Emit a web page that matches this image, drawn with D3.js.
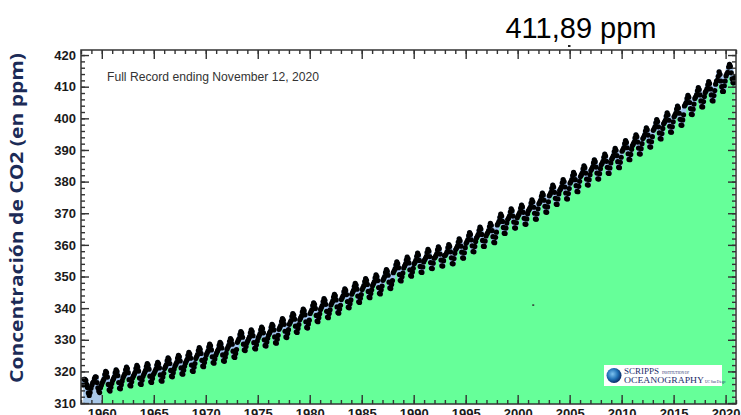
<!DOCTYPE html>
<html>
<head>
<meta charset="utf-8">
<script src="https://cdn.jsdelivr.net/npm/d3@7"></script>
<style>
  html, body { margin: 0; padding: 0; background: #fff; overflow: hidden; }
  svg { display: block; }
</style>
</head>
<body>
<div id="chart"></div>
<script>
// monthly CO2 at Mauna Loa (ppm)
const startYear = 1958, startMonth = 2; // March 1958
const co2_1950s = [
  315.7, 317.5, 317.5, 317.2, 315.9, 314.9, 313.2, 312.4, 313.3, 314.7,
  315.6, 316.4, 316.7, 317.7, 318.3, 318.2, 316.5, 314.8, 313.8, 313.3, 314.8, 315.6
];
const co2_1960s = [
  316.4, 317.0, 317.6, 319.0, 320.0, 319.6, 318.2, 315.9, 314.2, 313.8, 315.0, 316.2,
  317.1, 317.7, 318.3, 319.6, 320.5, 320.0, 318.7, 316.5, 314.7, 314.5, 315.8, 317.0,
  318.0, 318.6, 319.2, 320.5, 321.4, 320.9, 319.6, 317.4, 315.6, 315.4, 316.7, 317.9,
  318.5, 319.1, 319.7, 321.0, 321.9, 321.4, 320.1, 317.9, 316.1, 315.9, 317.2, 318.4,
  319.1, 319.7, 320.3, 321.6, 322.5, 322.0, 320.7, 318.5, 316.7, 316.5, 317.8, 319.0,
  319.5, 320.1, 320.7, 322.0, 322.9, 322.4, 321.1, 318.9, 317.1, 316.9, 318.2, 319.4,
  320.9, 321.5, 322.1, 323.4, 324.3, 323.8, 322.5, 320.3, 318.5, 318.3, 319.6, 320.8,
  321.7, 322.3, 322.9, 324.2, 325.1, 324.6, 323.3, 321.1, 319.3, 319.1, 320.4, 321.6,
  322.6, 323.2, 323.8, 325.1, 326.0, 325.5, 324.2, 322.0, 320.2, 320.0, 321.3, 322.5,
  324.1, 324.7, 325.3, 326.6, 327.5, 327.0, 325.7, 323.5, 321.7, 321.5, 322.8, 324.0
];
const co2_1970s = [
  325.2, 325.8, 326.4, 327.7, 328.6, 328.1, 326.8, 324.6, 322.8, 322.6, 323.9, 325.1,
  325.8, 326.4, 327.0, 328.3, 329.2, 328.7, 327.4, 325.2, 323.4, 323.2, 324.5, 325.7,
  327.0, 327.6, 328.2, 329.5, 330.4, 329.9, 328.6, 326.4, 324.6, 324.4, 325.7, 326.9,
  329.2, 329.8, 330.4, 331.7, 332.6, 332.1, 330.8, 328.6, 326.8, 326.6, 327.9, 329.1,
  329.7, 330.3, 330.9, 332.2, 333.1, 332.6, 331.3, 329.1, 327.3, 327.1, 328.4, 329.6,
  330.6, 331.2, 331.8, 333.1, 334.0, 333.5, 332.2, 330.0, 328.2, 328.0, 329.3, 330.5,
  331.5, 332.1, 332.7, 334.0, 334.9, 334.4, 333.1, 330.9, 329.1, 328.9, 330.2, 331.4,
  333.3, 333.9, 334.5, 335.8, 336.7, 336.2, 334.9, 332.7, 330.9, 330.7, 332.0, 333.2,
  334.9, 335.5, 336.1, 337.4, 338.3, 337.8, 336.5, 334.3, 332.5, 332.3, 333.6, 334.8,
  336.3, 336.9, 337.5, 338.8, 339.7, 339.2, 337.9, 335.7, 333.9, 333.7, 335.0, 336.2
];
const co2_1980s = [
  338.3, 338.9, 339.5, 340.8, 341.7, 341.2, 339.9, 337.7, 335.9, 335.7, 337.0, 338.2,
  339.6, 340.2, 340.8, 342.1, 343.0, 342.5, 341.2, 339.0, 337.2, 337.0, 338.3, 339.5,
  341.0, 341.6, 342.2, 343.5, 344.4, 343.9, 342.6, 340.4, 338.6, 338.4, 339.7, 340.9,
  342.7, 343.3, 343.9, 345.2, 346.1, 345.6, 344.3, 342.1, 340.3, 340.1, 341.4, 342.6,
  344.4, 345.0, 345.6, 346.9, 347.8, 347.3, 346.0, 343.8, 342.0, 341.8, 343.1, 344.3,
  345.9, 346.5, 347.1, 348.4, 349.3, 348.8, 347.5, 345.3, 343.5, 343.3, 344.6, 345.8,
  347.1, 347.7, 348.3, 349.6, 350.5, 350.0, 348.7, 346.5, 344.7, 344.5, 345.8, 347.0,
  348.8, 349.4, 350.0, 351.3, 352.2, 351.7, 350.4, 348.2, 346.4, 346.2, 347.5, 348.7,
  351.2, 351.8, 352.4, 353.7, 354.6, 354.1, 352.8, 350.6, 348.8, 348.6, 349.9, 351.1,
  352.7, 353.3, 353.9, 355.2, 356.1, 355.6, 354.3, 352.1, 350.3, 350.1, 351.4, 352.6
];
const co2_1990s = [
  354.0, 354.5, 355.1, 356.4, 357.4, 356.8, 355.1, 353.2, 351.4, 351.3, 353.0, 354.6,
  355.2, 355.7, 356.3, 357.6, 358.6, 358.0, 356.3, 354.4, 352.6, 352.5, 354.2, 355.8,
  356.0, 356.5, 357.1, 358.4, 359.4, 358.8, 357.1, 355.2, 353.4, 353.3, 355.0, 356.6,
  356.7, 357.2, 357.8, 359.1, 360.1, 359.5, 357.8, 355.9, 354.1, 354.0, 355.7, 357.3,
  358.5, 359.0, 359.6, 360.9, 361.9, 361.3, 359.6, 357.7, 355.9, 355.8, 357.5, 359.1,
  360.5, 361.0, 361.6, 362.9, 363.9, 363.3, 361.6, 359.7, 357.9, 357.8, 359.5, 361.1,
  362.2, 362.7, 363.3, 364.6, 365.6, 365.0, 363.3, 361.4, 359.6, 359.5, 361.2, 362.8,
  363.4, 363.9, 364.5, 365.8, 366.8, 366.2, 364.5, 362.6, 360.8, 360.7, 362.4, 364.0,
  366.3, 366.8, 367.4, 368.7, 369.7, 369.1, 367.4, 365.5, 363.7, 363.6, 365.3, 366.9,
  368.0, 368.5, 369.1, 370.4, 371.4, 370.8, 369.1, 367.2, 365.4, 365.3, 367.0, 368.6
];
const co2_2000s = [
  369.2, 369.7, 370.3, 371.6, 372.6, 372.0, 370.3, 368.4, 366.6, 366.5, 368.2, 369.8,
  370.8, 371.3, 371.9, 373.2, 374.2, 373.6, 371.9, 370.0, 368.2, 368.1, 369.8, 371.4,
  373.0, 373.5, 374.1, 375.4, 376.4, 375.8, 374.1, 372.2, 370.4, 370.3, 372.0, 373.6,
  375.5, 376.0, 376.6, 377.9, 378.9, 378.3, 376.6, 374.7, 372.9, 372.8, 374.5, 376.1,
  377.2, 377.7, 378.3, 379.6, 380.6, 380.0, 378.3, 376.4, 374.6, 374.5, 376.2, 377.8,
  379.5, 380.0, 380.6, 381.9, 382.9, 382.3, 380.6, 378.7, 376.9, 376.8, 378.5, 380.1,
  381.6, 382.1, 382.7, 384.0, 385.0, 384.4, 382.7, 380.8, 379.0, 378.9, 380.6, 382.2,
  383.5, 384.0, 384.6, 385.9, 386.9, 386.3, 384.6, 382.7, 380.9, 380.8, 382.5, 384.1,
  385.3, 385.8, 386.4, 387.7, 388.7, 388.1, 386.4, 384.5, 382.7, 382.6, 384.3, 385.9,
  387.1, 387.6, 388.2, 389.5, 390.5, 389.9, 388.2, 386.3, 384.5, 384.4, 386.1, 387.7
];
const co2_2010s = [
  389.6, 390.1, 390.7, 392.0, 393.0, 392.4, 390.7, 388.8, 387.0, 386.9, 388.6, 390.2,
  391.4, 391.9, 392.5, 393.8, 394.8, 394.2, 392.5, 390.6, 388.8, 388.7, 390.4, 392.0,
  393.6, 394.1, 394.7, 396.0, 397.0, 396.4, 394.7, 392.8, 391.0, 390.9, 392.6, 394.2,
  396.2, 396.7, 397.3, 398.6, 399.6, 399.0, 397.3, 395.4, 393.6, 393.5, 395.2, 396.8,
  398.3, 398.8, 399.4, 400.7, 401.7, 401.1, 399.4, 397.5, 395.7, 395.6, 397.3, 398.9,
  400.5, 401.0, 401.6, 402.9, 403.9, 403.3, 401.6, 399.7, 397.9, 397.8, 399.5, 401.1,
  403.9, 404.4, 405.0, 406.3, 407.3, 406.7, 405.0, 403.1, 401.3, 401.2, 402.9, 404.5,
  406.3, 406.8, 407.4, 408.7, 409.7, 409.1, 407.4, 405.5, 403.7, 403.6, 405.3, 406.9,
  408.2, 408.7, 409.3, 410.6, 411.6, 411.0, 409.3, 407.4, 405.6, 405.5, 407.2, 408.8,
  410.8, 411.8, 412.0, 413.3, 414.7, 413.9, 411.8, 410.0, 408.5, 408.5, 410.3, 411.8
];
const co2_2020 = [413.4, 414.1, 414.5, 416.2, 417.1, 416.4, 414.4, 412.5, 411.3, 411.2, 412.9];

const yearTicks = [1960, 1965, 1970, 1975, 1980, 1985, 1990, 1995, 2000, 2005, 2010, 2015, 2020];
const ppmTicks = [310, 320, 330, 340, 350, 360, 370, 380, 390, 400, 410, 420];
const recordLabel = "Full Record ending November 12, 2020";
const latestLabel = "411,89 ppm";
const yTitle = "Concentración de CO2 (en ppm)";

const W = 741, H = 415;
const plot = { left: 81, right: 736, top: 50, bottom: 404 };

const values = [].concat(co2_1950s, co2_1960s, co2_1970s, co2_1980s, co2_1990s, co2_2000s, co2_2010s, co2_2020);
const data = values.map((v, i) => {
  const m = startMonth + i;
  return { t: startYear + (m + 0.5) / 12, v: v };
});

const x = d3.scaleLinear().domain([1958, 2021]).range([plot.left, plot.right]);
const y = d3.scaleLinear().domain([309.7, 421.6]).range([plot.bottom, plot.top]);

const svg = d3.select("#chart").append("svg")
  .attr("width", W)
  .attr("height", H);

const defs = svg.append("defs");
defs.append("clipPath").attr("id", "plotclip")
  .append("rect")
  .attr("x", plot.left).attr("y", plot.top)
  .attr("width", plot.right - plot.left).attr("height", plot.bottom - plot.top);
defs.append("clipPath").attr("id", "early")
  .append("rect")
  .attr("x", plot.left).attr("y", plot.top)
  .attr("width", x(1960) - plot.left).attr("height", plot.bottom - plot.top);
defs.append("clipPath").attr("id", "late")
  .append("rect")
  .attr("x", x(1960)).attr("y", plot.top)
  .attr("width", plot.right - x(1960)).attr("height", plot.bottom - plot.top);

const grad = defs.append("radialGradient").attr("id", "globe")
  .attr("cx", "40%").attr("cy", "40%").attr("r", "60%");
grad.append("stop").attr("offset", "0%").attr("stop-color", "#7ec3f0");
grad.append("stop").attr("offset", "60%").attr("stop-color", "#1f6fb5");
grad.append("stop").attr("offset", "100%").attr("stop-color", "#0c2f6b");

const g = svg.append("g").attr("clip-path", "url(#plotclip)");

const area = d3.area()
  .x(d => x(d.t))
  .y0(plot.bottom)
  .y1(d => y(d.v));

// area under the curve: light blue before 1960, green afterwards
g.append("path").datum(data)
  .attr("clip-path", "url(#early)")
  .attr("fill", "#a9c8e8")
  .attr("d", area);
g.append("path").datum(data)
  .attr("clip-path", "url(#late)")
  .attr("fill", "#66ff99")
  .attr("d", area);

const line = d3.line().x(d => x(d.t)).y(d => y(d.v));
g.append("path").datum(data)
  .attr("fill", "none")
  .attr("stroke", "#9fc2ee")
  .attr("stroke-width", 5)
  .attr("stroke-linejoin", "round")
  .attr("d", line);

g.selectAll(".dot")
  .data(data)
  .enter()
  .append("circle")
  .attr("class", "dot")
  .attr("cx", d => x(d.t))
  .attr("cy", d => y(d.v))
  .attr("r", 2.6)
  .attr("fill", "#000");

// Scripps logo box
const logo = svg.append("g").attr("transform", "translate(604,365)");
logo.append("rect").attr("width", 118).attr("height", 21).attr("fill", "#fff");
logo.append("circle").attr("cx", 10).attr("cy", 10.5).attr("r", 7.5).attr("fill", "url(#globe)");
logo.append("text").attr("x", 20).attr("y", 9)
  .style("font-family", "'Liberation Serif', serif").style("font-size", "9px").attr("fill", "#1b2d6b")
  .text("SCRIPPS");
logo.append("text").attr("x", 58).attr("y", 8.5)
  .style("font-family", "'Liberation Serif', serif").style("font-size", "3.5px").attr("fill", "#1b2d6b")
  .text("INSTITUTION OF");
logo.append("text").attr("x", 20).attr("y", 18)
  .style("font-family", "'Liberation Serif', serif").style("font-size", "9px").attr("fill", "#1b2d6b")
  .attr("textLength", 80).attr("lengthAdjust", "spacingAndGlyphs")
  .text("OCEANOGRAPHY");
logo.append("text").attr("x", 101).attr("y", 18)
  .style("font-family", "'Liberation Serif', serif").style("font-size", "3.5px").attr("fill", "#1b2d6b")
  .text("UC San Diego");

// small stray mark in the green area
svg.append("rect").attr("x", x(2001.4)).attr("y", y(341.2)).attr("width", 2).attr("height", 1.5).attr("fill", "#333");

// axes with inward ticks
const tickColor = "#333";
function styleAxis(sel) {
  sel.select(".domain").remove();
  sel.selectAll("line").attr("stroke", tickColor).attr("stroke-width", 1.4);
  sel.selectAll("text")
    .style("font-family", "'Liberation Sans', Arial, sans-serif")
    .style("font-size", "13px")
    .style("font-weight", "bold")
    .attr("fill", "#1a1a1a");
}

const minorYears = d3.range(1958, 2022);
const minorPpm = d3.range(310, 422, 2);

svg.append("g").attr("transform", `translate(${plot.left},0)`)
  .call(d3.axisLeft(y).tickValues(minorPpm).tickSize(-4).tickFormat(""))
  .call(styleAxis);
svg.append("g").attr("transform", `translate(${plot.left},0)`)
  .call(d3.axisLeft(y).tickValues(ppmTicks).tickSize(-8).tickPadding(5).tickFormat(d3.format("d")))
  .call(styleAxis);

svg.append("g").attr("transform", `translate(${plot.right},0)`)
  .call(d3.axisRight(y).tickValues(minorPpm).tickSize(-4).tickFormat(""))
  .call(styleAxis);
svg.append("g").attr("transform", `translate(${plot.right},0)`)
  .call(d3.axisRight(y).tickValues(ppmTicks).tickSize(-8).tickFormat(""))
  .call(styleAxis);

svg.append("g").attr("transform", `translate(0,${plot.bottom})`)
  .call(d3.axisBottom(x).tickValues(minorYears).tickSize(-4).tickFormat(""))
  .call(styleAxis);
svg.append("g").attr("transform", `translate(0,${plot.bottom})`)
  .call(d3.axisBottom(x).tickValues(yearTicks).tickSize(-9).tickPadding(5).tickFormat(d3.format("d")))
  .call(styleAxis);

svg.append("g").attr("transform", `translate(0,${plot.top})`)
  .call(d3.axisTop(x).tickValues(minorYears).tickSize(-4).tickFormat(""))
  .call(styleAxis);
svg.append("g").attr("transform", `translate(0,${plot.top})`)
  .call(d3.axisTop(x).tickValues(yearTicks).tickSize(-9).tickFormat(""))
  .call(styleAxis);

// frame
svg.append("rect")
  .attr("x", plot.left).attr("y", plot.top)
  .attr("width", plot.right - plot.left).attr("height", plot.bottom - plot.top)
  .attr("fill", "none")
  .attr("stroke", "#333")
  .attr("stroke-width", 1.5);

// record note
svg.append("text")
  .attr("x", x(1960.5))
  .attr("y", 81)
  .attr("textLength", 212)
  .attr("lengthAdjust", "spacingAndGlyphs")
  .style("font-family", "'Liberation Sans', Arial, sans-serif")
  .style("font-size", "12px")
  .attr("fill", "#333")
  .text(recordLabel);

// latest value above the chart
svg.append("text")
  .attr("x", 581)
  .attr("y", 38)
  .attr("text-anchor", "middle")
  .style("font-family", "'Liberation Sans', Arial, sans-serif")
  .style("font-size", "29px")
  .attr("fill", "#000")
  .text(latestLabel);
svg.append("rect").attr("x", 568).attr("y", 45).attr("width", 2.5).attr("height", 2).attr("fill", "#222");

// Y-axis title
svg.append("text")
  .attr("transform", "rotate(-90)")
  .attr("x", -218)
  .attr("y", 23)
  .attr("text-anchor", "middle")
  .attr("textLength", 330)
  .attr("lengthAdjust", "spacingAndGlyphs")
  .style("font-family", "'Open Sans', sans-serif")
  .style("font-size", "17px")
  .style("font-weight", "bold")
  .attr("fill", "#1c2b57")
  .text(yTitle);
</script>
</body>
</html>
